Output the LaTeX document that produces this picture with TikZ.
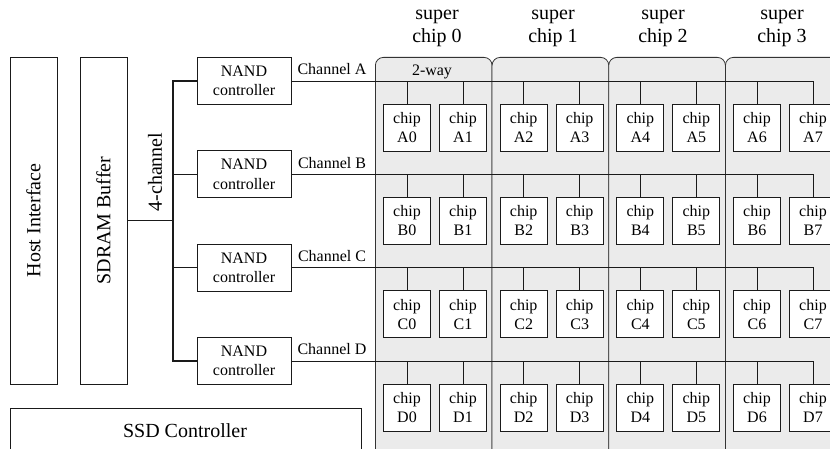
\documentclass[tikz,border=0pt]{standalone}
\usepackage{fontspec}
\setmainfont{LiberationSerif}[Extension=.ttf, UprightFont=*-Regular, BoldFont=*-Bold, ItalicFont=*-Italic, BoldItalicFont=*-BoldItalic]
\usepackage{graphicx}
\definecolor{groupfill}{HTML}{EBEBEB}
\definecolor{groupline}{HTML}{333333}
\definecolor{ink}{HTML}{1A1A1A}
\begin{document}
\begin{tikzpicture}[x=1pt,y=-1pt,
  box/.style={draw=ink, line width=0.8pt, inner sep=0pt, align=center},
  ctrlbox/.style={box, minimum width=94pt, minimum height=47pt, font=\fontsize{16}{19.5}\selectfont},
  chipbox/.style={box, fill=white, minimum width=47pt, minimum height=47pt, font=\fontsize{16}{19}\selectfont},
  bigbox/.style={box, font=\fontsize{20}{24}\selectfont},
  bigtext/.style={inner sep=0pt, font=\fontsize{20}{24}\selectfont},
  group/.style={draw=groupline, fill=groupfill, line width=0.8pt, rounded corners=8pt, inner sep=0pt,
    minimum width=116.67pt, minimum height=420pt, anchor=north west},
  wire/.style={draw=ink, line width=0.8pt},
  bus/.style={draw=ink, line width=1.6pt},
  lbl/.style={inner sep=0pt, font=\fontsize{16}{19}\selectfont},
  head/.style={align=center, inner sep=0pt, font=\fontsize{20}{23}\selectfont}]

\useasboundingbox (0,0) rectangle (830,449);
\clip (0,0) rectangle (830,449);

% super chip regions
\foreach \k in {0,...,3} {
  \node[group] (sc\k) at ({375+116.67*\k},57) {};
}
\foreach \k/\x in {0/437,1/553,2/663,3/782} {
  \node[head] (head\k) at (\x,28) {super\\chip \k};
}
\node[lbl, anchor=base] (way) at (432,76) {2-way};

% host side blocks
\node[bigbox, minimum width=47pt, minimum height=327pt] (host) at (33.5,220.5) {\rotatebox{90}{Host Interface}};
\node[bigbox, minimum width=47pt, minimum height=327pt] (sdram) at (103.5,220.5) {\rotatebox{90}{SDRAM Buffer}};
\node[bigtext] (nch) at (155,172) {\rotatebox{90}{4-channel}};
\node[box, minimum width=351pt, minimum height=60pt, anchor=north west] (ssd) at (10,408) {};
\node[bigtext] (ssdlabel) at (185,431) {SSD Controller};

% NAND controllers, channels and flash chips
\foreach \r/\i in {A/0,B/1,C/2,D/3} {
  \pgfmathsetmacro{\cy}{81+93.33*\i}
  \node[ctrlbox] (ctrl\r) at (244,\cy) {NAND\\controller};
  \node[lbl, anchor=base] (lab\r) at (332,\cy-6) {Channel \r};
  \foreach \c in {0,...,7} {
    \pgfmathsetmacro{\cx}{375+116.67*floor(\c/2)+32+56*mod(\c,2)}
    \node[chipbox] (\r\c) at (\cx,\cy+46.5) {chip\\\r\c};
  }
  \draw[wire] (ctrl\r.east) -| (\r7.north);
  \foreach \c in {0,...,6} {
    \draw[wire] (\r\c.north) -- (\r\c.north |- ctrl\r.east);
  }
}

% internal bus
\coordinate (bus) at (173,221);
\draw[bus] (sdram.east) -- (sdram.east -| bus);
\draw[bus] (ctrlA.west) -| (bus) |- (ctrlD.west);
\draw[bus] (ctrlB.west) -- (ctrlB.west -| bus);
\draw[bus] (ctrlC.west) -- (ctrlC.west -| bus);
\end{tikzpicture}
\end{document}
